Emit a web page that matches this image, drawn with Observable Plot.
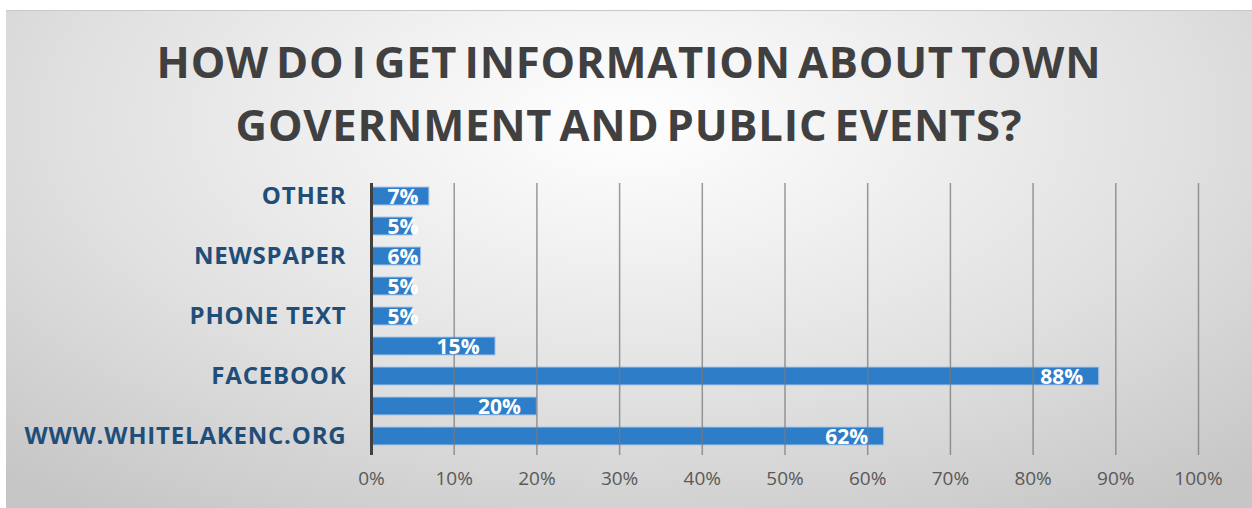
<!DOCTYPE html>
<html>
<head>
<meta charset="utf-8">
<script src="https://cdn.jsdelivr.net/npm/d3@7"></script>
<script src="https://cdn.jsdelivr.net/npm/@observablehq/plot@0.6"></script>
<style>
  html, body { margin: 0; padding: 0; background: #fff; }
  #page { position: relative; width: 1252px; height: 508px; overflow: hidden; }
  #card {
    position: absolute; left: 6px; top: 10px; width: 1246px; height: 498px;
    background: radial-gradient(ellipse 75% 95% at 50% 22%, #ffffff 0%, #f0f0f0 30%, #e0e0e0 60%, #c6c6c6 100%);
    border-top: 1px solid #c8c8c8;
  }
  #title {
    position: absolute; left: 6px; top: 30px; width: 1246px; text-align: center;
    font-family: "Open Sans", sans-serif; font-weight: 700; font-size: 43.5px;
    line-height: 63px; color: #404040; letter-spacing: 0.8px; word-spacing: -5px;
  }
  #chart { position: absolute; left: 0; top: 0; }
  .ylabels text { letter-spacing: 0.8px; }
</style>
</head>
<body>
<div id="page">
  <div id="card"></div>
  <div id="title">HOW DO I GET INFORMATION ABOUT TOWN<br>GOVERNMENT AND PUBLIC EVENTS?</div>
  <div id="chart"></div>
</div>
<script>
// Survey answers, listed top to bottom as drawn
const categories = [
  "OTHER", "WORD OF MOUTH", "NEWSPAPER", "TOWN EMAIL", "PHONE TEXT",
  "TOWN HALL BOARD", "FACEBOOK", "TOWN NEWSLETTER", "WWW.WHITELAKENC.ORG"
];
const percents = [7, 5, 6, 5, 5, 15, 88, 20, 62];
// Only every other category carries a visible axis label
const labeledCategories = ["OTHER", "NEWSPAPER", "PHONE TEXT", "FACEBOOK", "WWW.WHITELAKENC.ORG"];
const xTicks = [0, 10, 20, 30, 40, 50, 60, 70, 80, 90, 100];

const rows = categories.map((c, i) => ({category: c, value: percents[i]}));

const chart = Plot.plot({
  width: 1252,
  height: 508,
  marginTop: 183,
  marginBottom: 53,
  marginLeft: 371,
  marginRight: 54,
  style: {background: "transparent", overflow: "visible"},
  x: {domain: [0, 100], ticks: xTicks},
  y: {domain: categories, paddingInner: 0.415, paddingOuter: 0.14, insetBottom: 6},
  marks: [
    Plot.barX(rows, {
      x: "value", y: "category",
      fill: "#2e7dc9", stroke: "#a8c8ea", strokeWidth: 1
    }),
    // vertical gridlines sit above the bars
    Plot.ruleX(xTicks.filter(d => d > 0), {stroke: "#7a7a7a", strokeOpacity: 0.75, strokeWidth: 1.5}),
    Plot.ruleX([0], {stroke: "#404040", strokeWidth: 3}),
    // value labels: right inside the bar end, or pinned near the start for short bars
    Plot.text(rows.filter(d => d.value >= 10), {
      x: "value", y: "category", text: d => d.value + "%",
      textAnchor: "end", dx: -16, dy: 1,
      fill: "white", fontSize: 21, fontWeight: 700, fontFamily: "Open Sans"
    }),
    Plot.text(rows.filter(d => d.value < 10), {
      x: 0, y: "category", text: d => d.value + "%",
      textAnchor: "start", dx: 16, dy: 1,
      fill: "white", fontSize: 21, fontWeight: 700, fontFamily: "Open Sans"
    }),
    Plot.axisX({
      ticks: xTicks, tickFormat: d => d + "%", tickSize: 0, tickPadding: 16,
      fontSize: 19, fill: "#595959", fontFamily: "Open Sans", label: null
    }),
    Plot.axisY({
      ticks: labeledCategories, tickSize: 0, tickPadding: 25, className: "ylabels",
      fontSize: 24, fontWeight: 700, fill: "#1f4e79", fontFamily: "Open Sans", label: null
    })
  ]
});
document.getElementById("chart").appendChild(chart);
</script>
</body>
</html>
